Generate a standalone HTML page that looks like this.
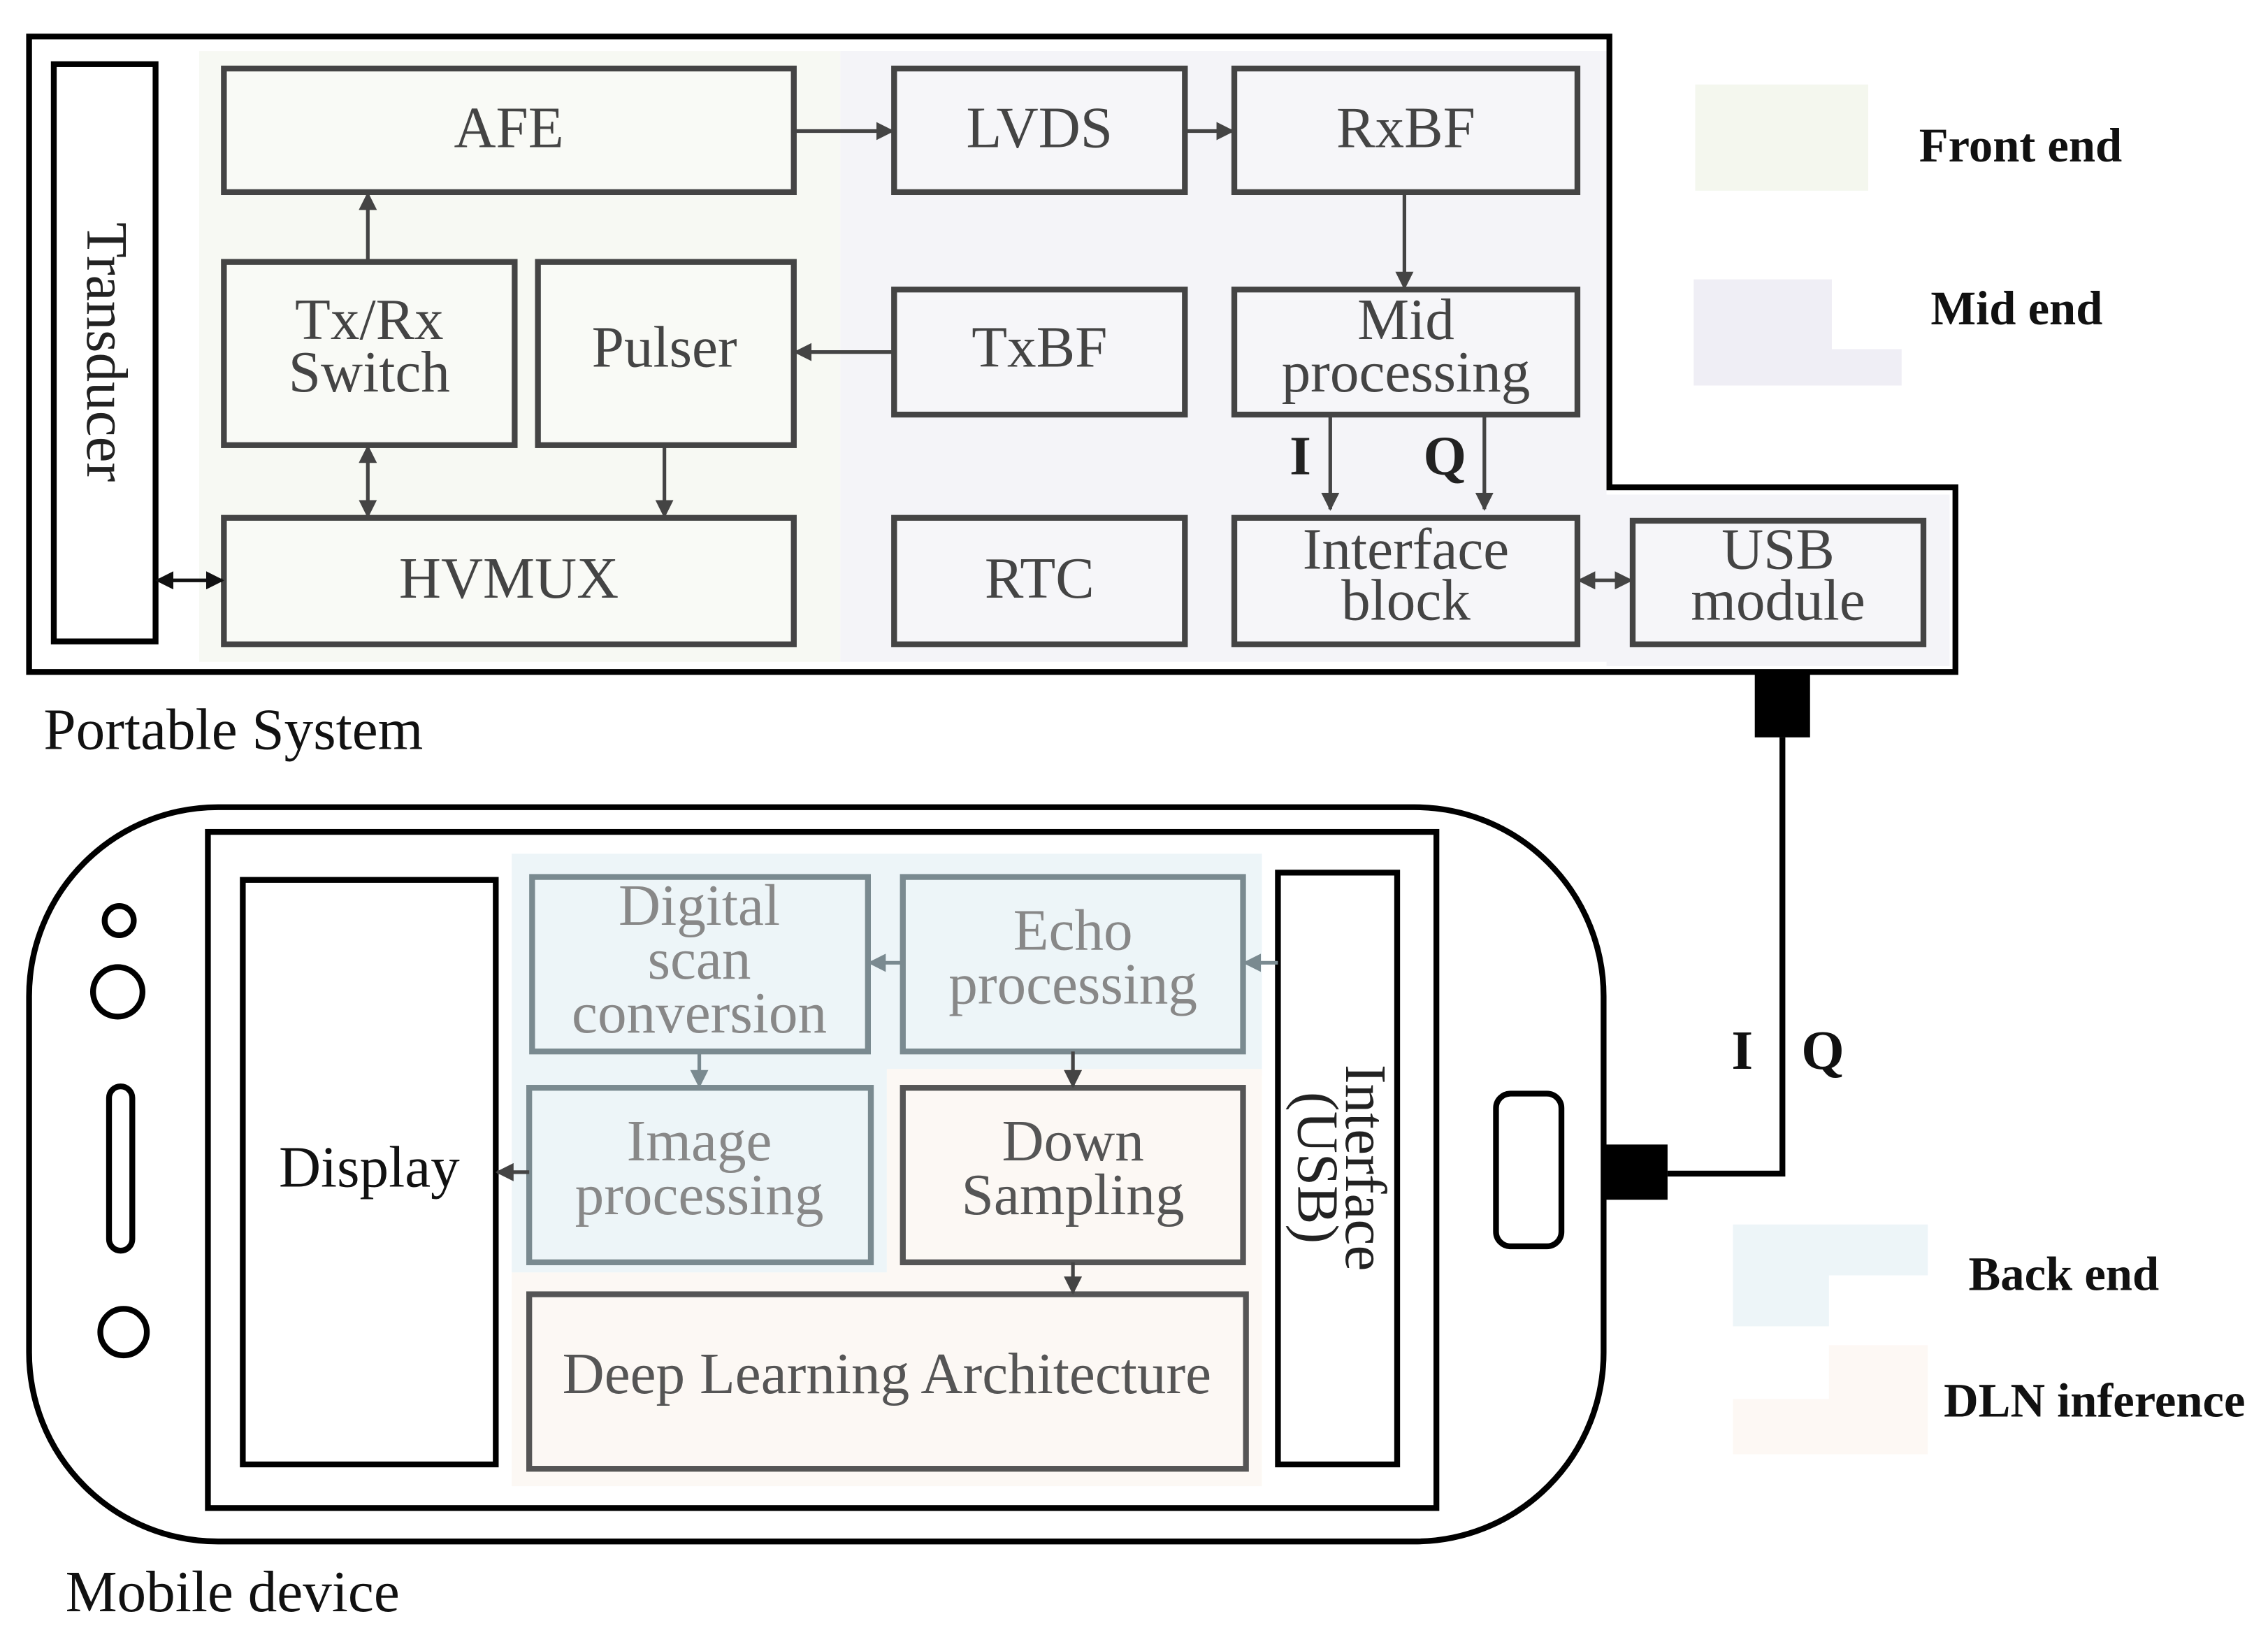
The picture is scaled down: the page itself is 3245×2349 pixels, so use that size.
<!DOCTYPE html>
<html><head><meta charset="utf-8"><style>html,body{margin:0;padding:0;background:#fff}svg{display:block}</style></head><body>
<svg width="3245" height="2349" viewBox="0 0 1560 1129" xmlns="http://www.w3.org/2000/svg" font-family="Liberation Serif, serif">
<defs>
<marker id="a" viewBox="0 0 10 10" refX="9" refY="5" markerWidth="5" markerHeight="5" orient="auto-start-reverse"><path d="M0,0L10,5L0,10z" fill="#444"/></marker>
<marker id="k" viewBox="0 0 10 10" refX="9" refY="5" markerWidth="5" markerHeight="5" orient="auto-start-reverse"><path d="M0,0L10,5L0,10z" fill="#111"/></marker>
<marker id="g" viewBox="0 0 10 10" refX="9" refY="5" markerWidth="5" markerHeight="5" orient="auto-start-reverse"><path d="M0,0L10,5L0,10z" fill="#7a8a90"/></marker>
</defs>
<rect width="1560" height="1129" fill="#fff"/>
<rect x="137" y="35" width="441" height="420" fill="#f7f9f3"/>
<rect x="578" y="35" width="527" height="420" fill="#f4f4f8"/>
<rect x="1105" y="340" width="236" height="118" fill="#f4f4f8"/>
<path d="M20,25H1107V335H1345V462H20Z" fill="none" stroke="#000" stroke-width="4"/>
<rect x="37" y="44" width="70" height="397" fill="#fff" stroke="#000" stroke-width="4"/>
<text transform="translate(60,242) rotate(90)" text-anchor="middle" font-size="40" fill="#222">Transducer</text>
<g fill="#f9faf6" stroke="#444" stroke-width="4">
<rect x="154" y="47" width="392" height="85"/><rect x="154" y="180" width="200" height="126"/><rect x="370" y="180" width="176" height="126"/><rect x="154" y="356" width="392" height="87"/>
</g>
<g fill="#f6f6f9" stroke="#444" stroke-width="4">
<rect x="615" y="47" width="200" height="85"/><rect x="849" y="47" width="236" height="85"/><rect x="615" y="199" width="200" height="86"/><rect x="849" y="199" width="236" height="86"/><rect x="615" y="356" width="200" height="87"/><rect x="849" y="356" width="236" height="87"/><rect x="1123" y="358" width="200" height="85"/>
</g>
<g font-size="40" fill="#444" text-anchor="middle">
<text x="350" y="101">AFE</text><text x="715" y="101">LVDS</text><text x="967" y="101">RxBF</text>
<text x="254" y="233">Tx/Rx</text><text x="254" y="269">Switch</text><text x="457" y="252">Pulser</text>
<text x="715" y="252">TxBF</text><text x="967" y="233">Mid</text><text x="967" y="269">processing</text>
<text x="350" y="411">HVMUX</text><text x="715" y="411">RTC</text>
<text x="967" y="391">Interface</text><text x="967" y="426">block</text>
<text x="1223" y="391">USB</text><text x="1223" y="426">module</text>
</g>
<g stroke="#444" stroke-width="2.5" fill="none" marker-end="url(#a)">
<path d="M546,90H614"/><path d="M815,90H848"/><path d="M966,132V198"/><path d="M615,242H547"/><path d="M253,180V133"/><path d="M457,306V355"/><path d="M915,285V350"/><path d="M1021,285V350"/>
<path d="M253,307V355" marker-start="url(#a)"/><path d="M1086,399H1122" marker-start="url(#a)"/>
</g>
<path d="M108,399H153" stroke="#111" stroke-width="2.5" marker-end="url(#k)" marker-start="url(#k)"/>
<g font-size="38" font-weight="bold" fill="#222"><text x="887" y="326">I</text><text x="979" y="326">Q</text></g>
<text x="30" y="515" font-size="40" fill="#111">Portable System</text>
<rect x="1207" y="462" width="38" height="45" fill="#000"/>
<path d="M1226,507V807H1147" stroke="#000" stroke-width="4" fill="none"/>
<rect x="1103" y="787" width="44" height="38" fill="#000"/>
<g font-size="38" font-weight="bold" fill="#111"><text x="1191" y="735">I</text><text x="1239" y="735">Q</text></g>
<rect x="20" y="555" width="1083" height="505" rx="130" fill="#fff" stroke="#000" stroke-width="4"/>
<rect x="143" y="572" width="845" height="465" fill="#fff" stroke="#000" stroke-width="4"/>
<g fill="none" stroke="#000" stroke-width="4">
<circle cx="82" cy="633" r="10"/><circle cx="81" cy="682" r="17"/><rect x="75" y="747" width="16" height="113" rx="8"/><circle cx="85" cy="916" r="16"/><rect x="1029" y="752" width="45" height="105" rx="10"/>
</g>
<path d="M352,587H868V740H610V875H352Z" fill="#edf5f8"/>
<path d="M610,735H868V1022H352V875H610Z" fill="#fcf8f4"/>
<rect x="167" y="605" width="174" height="402" fill="#fff" stroke="#000" stroke-width="4"/>
<text x="254" y="816" font-size="40" fill="#111" text-anchor="middle">Display</text>
<g fill="#edf5f8" stroke="#7a8a90" stroke-width="4">
<rect x="366" y="603" width="231" height="120"/><rect x="621" y="603" width="234" height="120"/><rect x="364" y="748" width="235" height="120"/>
</g>
<g fill="#fcf8f4" stroke="#555" stroke-width="4">
<rect x="621" y="748" width="234" height="120"/><rect x="364" y="890" width="493" height="120"/>
</g>
<g font-size="40" fill="#888" text-anchor="middle">
<text x="481" y="636">Digital</text><text x="481" y="673">scan</text><text x="481" y="710">conversion</text>
<text x="738" y="653">Echo</text><text x="738" y="690">processing</text>
<text x="481" y="798">Image</text><text x="481" y="835">processing</text>
</g>
<g font-size="40" fill="#555" text-anchor="middle">
<text x="738" y="798">Down</text><text x="738" y="835">Sampling</text>
<text x="610" y="958">Deep Learning Architecture</text>
</g>
<rect x="879" y="600" width="82" height="407" fill="#fff" stroke="#000" stroke-width="4"/>
<text transform="translate(926,803) rotate(90)" text-anchor="middle" font-size="40" fill="#222">Interface</text>
<text transform="translate(893,803) rotate(90)" text-anchor="middle" font-size="40" fill="#222">(USB)</text>
<g stroke="#7a8a90" stroke-width="2.5" fill="none" marker-end="url(#g)">
<path d="M879,662H856"/><path d="M621,662H598"/><path d="M481,723V747"/>
</g>
<g stroke="#444" stroke-width="2.5" fill="none" marker-end="url(#a)">
<path d="M738,723V747"/><path d="M738,868V889"/><path d="M364,806H342"/>
</g>
<text x="45" y="1108" font-size="40" fill="#111">Mobile device</text>
<rect x="1166" y="58" width="119" height="73" fill="#f4f7ee"/>
<text x="1320" y="111" font-size="33" font-weight="bold" fill="#111">Front end</text>
<path d="M1165,192H1260V240H1308V265H1165Z" fill="#efeef5"/>
<text x="1328" y="223" font-size="33" font-weight="bold" fill="#111">Mid end</text>
<path d="M1192,842H1326V877H1258V912H1192Z" fill="#edf5f8"/>
<text x="1354" y="887" font-size="33" font-weight="bold" fill="#111">Back end</text>
<path d="M1258,925H1326V1000H1192V962H1258Z" fill="#fdf8f4"/>
<text x="1337" y="974" font-size="33" font-weight="bold" fill="#111">DLN inference</text>
</svg>
</body></html>
